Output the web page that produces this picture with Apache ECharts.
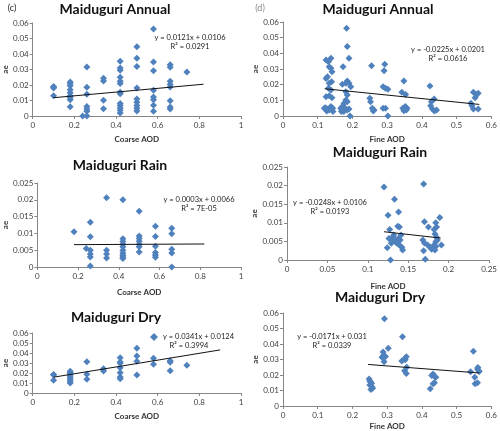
<!DOCTYPE html>
<html><head><meta charset="utf-8">
<script src="https://cdn.jsdelivr.net/npm/echarts@6/dist/echarts.min.js"></script>
<style>html,body{margin:0;padding:0;background:#fff}#c{width:500px;height:431px}</style>
</head><body><div id="c"></div>
<script>
// ---- data ----
const annualCoarse = [
 [0.1,0.019],[0.1,0.018],[0.1,0.0185],[0.1,0.013],
 [0.18,0.022],[0.18,0.021],[0.18,0.0195],[0.18,0.017],[0.18,0.015],[0.18,0.013],[0.18,0.012],[0.18,0.0105],[0.18,0.006],
 [0.24,0.0],
 [0.26,0.0316],[0.26,0.0185],[0.26,0.014],[0.26,0.0062],[0.26,0.0045],[0.26,0.003],[0.26,0.0],
 [0.34,0.0243],[0.34,0.0226],[0.34,0.0101],[0.34,0.0047],
 [0.42,0.0353],[0.42,0.031],[0.42,0.0295],[0.42,0.025],[0.42,0.0224],[0.42,0.021],[0.42,0.0153],[0.42,0.0144],[0.42,0.008],[0.42,0.0067],[0.42,0.0052],[0.42,0.0037],[0.42,0.002],
 [0.5,0.0447],[0.5,0.0372],[0.5,0.032],[0.5,0.018],[0.5,0.011],[0.5,0.0088],[0.5,0.0067],[0.5,0.005],[0.5,0.0032],
 [0.58,0.0561],[0.58,0.0348],[0.58,0.0292],[0.58,0.0166],[0.58,0.0123],[0.58,0.0105],[0.58,0.007],[0.58,0.003],
 [0.66,0.033],[0.66,0.0314],[0.66,0.0224],[0.66,0.0204],[0.66,0.0187],[0.66,0.0099],[0.66,0.0058],[0.66,0.0045],
 [0.74,0.0284]
];
const annualCoarseTrend = [[0.1,0.0118],[0.82,0.0205]];

const annualFine = [
 [0.124,0.0357],[0.131,0.0347],[0.138,0.0368],[0.133,0.0315],[0.138,0.0304],[0.141,0.0283],[0.128,0.0251],[0.124,0.024],
 [0.133,0.0209],[0.14,0.0219],[0.131,0.0177],[0.138,0.0166],[0.124,0.0123],[0.133,0.013],[0.141,0.0117],[0.122,0.0053],
 [0.128,0.0045],[0.133,0.0038],[0.138,0.006],[0.143,0.0049],[0.144,0.0028],[0.126,0.0032],[0.119,0.0049],
 [0.183,0.056],[0.185,0.0443],[0.19,0.0368],[0.173,0.0315],[0.185,0.0223],[0.19,0.0209],[0.181,0.0209],[0.171,0.0202],
 [0.195,0.0187],[0.181,0.0155],[0.185,0.0134],[0.181,0.0102],[0.185,0.0091],[0.176,0.0081],[0.171,0.006],[0.179,0.0049],
 [0.185,0.0038],[0.168,0.0028],[0.175,0.0028],[0.19,0.0045],[0.193,0.0],[0.166,0.0049],
 [0.255,0.032],[0.25,0.0113],[0.252,0.0091],[0.257,0.0049],[0.26,0.0032],[0.262,0.0038],
 [0.293,0.033],[0.291,0.0289],[0.288,0.0187],[0.295,0.0177],[0.302,0.017],[0.288,0.0049],[0.295,0.0049],[0.302,0.0],
 [0.348,0.0223],[0.342,0.0151],[0.353,0.0138],[0.345,0.0049],[0.352,0.006],[0.355,0.0038],[0.348,0.0034],[0.357,0.0049],
 [0.423,0.0191],[0.427,0.0091],[0.435,0.0109],[0.425,0.0066],[0.43,0.0045],[0.436,0.0032],[0.442,0.0038],
 [0.558,0.0138],[0.553,0.0117],[0.548,0.0151],[0.562,0.0145],[0.541,0.0081],[0.544,0.0066],[0.548,0.0045],[0.562,0.0045]
];
const annualFineTrend = [[0.12,0.0174],[0.565,0.0074]];

const rainCoarse = [
 [0.18,0.0105],[0.24,0.0055],
 [0.26,0.0133],[0.26,0.009],[0.26,0.005],[0.26,0.0039],[0.26,0.003],[0.26,0.0003],
 [0.34,0.0206],[0.34,0.005],[0.34,0.0039],[0.34,0.0027],
 [0.42,0.02],[0.42,0.0084],[0.42,0.0076],[0.42,0.0068],[0.42,0.006],[0.42,0.005],[0.42,0.0042],[0.42,0.0035],[0.42,0.003],[0.42,0.0025],
 [0.5,0.0166],[0.5,0.0092],[0.5,0.0085],[0.5,0.0077],[0.5,0.0068],[0.5,0.006],[0.5,0.0045],
 [0.58,0.0121],[0.58,0.0091],[0.58,0.0062],[0.58,0.0043],[0.58,0.0036],[0.58,0.0029],
 [0.66,0.0115],[0.66,0.0099],[0.66,0.0053],[0.66,0.0042],[0.66,0.0]
];
const rainCoarseTrend = [[0.18,0.00665],[0.82,0.00685]];

const rainFine = [
 [0.12,0.0196],[0.125,0.012],[0.127,0.0082],[0.124,0.0033],[0.128,0.0],[0.126,0.0058],[0.129,0.0054],[0.131,0.0062],
 [0.133,0.0163],[0.132,0.0067],[0.134,0.0049],[0.136,0.0045],[0.138,0.0129],[0.137,0.0091],[0.139,0.0089],[0.135,0.0054],
 [0.138,0.0058],[0.14,0.0054],[0.141,0.0067],[0.142,0.0034],[0.143,0.0027],[0.139,0.004],[0.129,0.0045],
 [0.169,0.0204],[0.17,0.0103],[0.168,0.0054],[0.17,0.0046],[0.169,0.0025],[0.171,0.0002],[0.174,0.004],[0.175,0.0089],
 [0.177,0.0034],[0.179,0.0029],[0.182,0.0082],[0.184,0.01],[0.185,0.0089],[0.183,0.007],[0.185,0.0061],[0.184,0.0049],
 [0.182,0.004],[0.184,0.0036],[0.183,0.0027],[0.189,0.0114],[0.191,0.004],[0.186,0.0054]
];
const rainFineTrend = [[0.12,0.0076],[0.19,0.0059]];

const dryCoarse = [
 [0.1,0.0186],[0.1,0.018],[0.1,0.0127],
 [0.18,0.0217],[0.18,0.0203],[0.18,0.019],[0.18,0.017],[0.18,0.015],[0.18,0.0137],[0.18,0.0117],[0.18,0.01],
 [0.26,0.0313],[0.26,0.0187],[0.26,0.0137],
 [0.34,0.0243],[0.34,0.022],
 [0.42,0.0353],[0.42,0.031],[0.42,0.0297],[0.42,0.0253],[0.42,0.0203],[0.42,0.016],[0.42,0.0143],
 [0.5,0.0447],[0.5,0.037],[0.5,0.0317],[0.5,0.018],
 [0.58,0.0347],[0.58,0.0287],
 [0.66,0.0323],[0.66,0.0307],[0.66,0.0223],
 [0.74,0.0277]
];
const dryCoarseTrend = [[0.1,0.0158],[0.9,0.0431]];

const dryFine = [
 [0.248,0.0175],[0.25,0.0162],[0.252,0.0155],[0.255,0.0146],[0.25,0.0135],[0.256,0.0125],[0.258,0.0115],[0.253,0.0106],
 [0.292,0.0563],[0.288,0.0348],[0.29,0.0328],[0.285,0.0315],[0.295,0.032],[0.291,0.0285],[0.303,0.0373],
 [0.344,0.0447],[0.342,0.029],[0.35,0.0305],[0.355,0.0318],[0.352,0.0298],[0.356,0.025],[0.35,0.0228],[0.355,0.021],
 [0.428,0.0196],[0.432,0.0206],[0.436,0.0191],[0.44,0.0185],[0.432,0.0143],[0.436,0.015],[0.424,0.0112],
 [0.548,0.0353],[0.54,0.0221],[0.552,0.0185],[0.553,0.0143],[0.56,0.015],[0.56,0.0238],[0.563,0.0228],[0.561,0.0248],[0.565,0.0222]
];
const dryFineTrend = [[0.245,0.0268],[0.565,0.0213]];

const panelTitles = ['Maiduguri Annual','Maiduguri Annual','Maiduguri Rain','Maiduguri Rain','Maiduguri Dry','Maiduguri Dry'];
const xNames = ['Coarse AOD','Fine AOD','Coarse AOD','Fine AOD','Coarse AOD','Fine AOD'];
const equations = ['y = 0.0121x + 0.0106','y = -0.0225x + 0.0201','y = 0.0003x + 0.0066','y = -0.0248x + 0.0106','y = 0.0341x + 0.0124','y = -0.0171x + 0.031'];
const rSquared = ['R² = 0.0291','R² = 0.0616','R² = 7E-05','R² = 0.0193','R² = 0.3994','R² = 0.0339'];
const xRanges = [[0,1,0.2],[0,0.6,0.1],[0,1,0.2],[0,0.25,0.05],[0,1,0.2],[0,0.6,0.1]];
const yRanges = [[0,0.06,0.01],[0,0.06,0.01],[0,0.025,0.005],[0,0.025,0.005],[0,0.06,0.01],[0,0.06,0.01]];

// ---- layout ----
const FONT = 'Lato, "Open Sans", sans-serif';
const BLUE = '#4F81BD';
const grids = [
 {left:29, top:23, width:212, height:93},
 {left:283, top:22, width:212, height:94},
 {left:32, top:183, width:209, height:84},
 {left:287, top:167, width:206, height:93},
 {left:29, top:333, width:212, height:60},
 {left:283, top:313, width:212, height:94}
];
const xNameGaps = [19,19,21,22,19,16];
const yNameGaps = [21,23,23,26,21,23];
const scatterSets = [annualCoarse, annualFine, rainCoarse, rainFine, dryCoarse, dryFine];
const trendSets = [annualCoarseTrend, annualFineTrend, rainCoarseTrend, rainFineTrend, dryCoarseTrend, dryFineTrend];
const titlePos = [[115,9],[378,9],[120,165],[380,152],[116,317],[380,297]];
const eqPos = [[190,38,47],[448,50,59],[199,200,209],[330,203,212],[189,337,346],[332,337,346]];

const axisCommon = {
  axisLine:{show:true, onZero:false, lineStyle:{color:'#868686', width:1}},
  axisTick:{show:true, inside:false, length:3, lineStyle:{color:'#868686'}},
  splitLine:{show:false},
  axisLabel:{fontSize:8, color:'#404040', fontFamily:FONT}
};

const xAxis = [], yAxis = [], series = [], graphic = [];
for (let i=0;i<6;i++){
  xAxis.push(Object.assign({}, axisCommon, {
    type:'value', gridIndex:i, min:xRanges[i][0], max:xRanges[i][1], interval:xRanges[i][2],
    name:xNames[i], nameLocation:'middle', nameGap:xNameGaps[i],
    nameTextStyle:{fontSize:8, fontWeight:'bold', color:'#333', fontFamily:FONT},
    axisLabel:{fontSize:8, color:'#404040', fontFamily:FONT, margin:5}
  }));
  yAxis.push(Object.assign({}, axisCommon, {
    type:'value', gridIndex:i, min:yRanges[i][0], max:yRanges[i][1], interval:yRanges[i][2],
    name:'ae', nameLocation:'middle', nameGap:yNameGaps[i], nameRotate:90,
    nameTextStyle:{fontSize:8, fontWeight:'bold', color:'#333', fontFamily:FONT},
    axisLabel:{fontSize:8, color:'#404040', fontFamily:FONT, margin:4}
  }));
  series.push({
    name:'pts'+i, type:'scatter', xAxisIndex:i, yAxisIndex:i, data:scatterSets[i],
    symbol:'diamond', symbolSize:7, itemStyle:{color:BLUE, opacity:1}, z:3
  });
  series.push({
    type:'line', xAxisIndex:i, yAxisIndex:i, data:trendSets[i], symbol:'none',
    lineStyle:{color:'#111', width:1}, z:4, silent:true
  });
  graphic.push({type:'text', x:titlePos[i][0], y:titlePos[i][1],
    style:{text:panelTitles[i], font:'bold 14px '+FONT, fill:'#111', textAlign:'center', textVerticalAlign:'middle'}});
  if (i!==4){
    graphic.push({type:'text', x:eqPos[i][0], y:eqPos[i][1],
      style:{text:equations[i], font:'7.5px '+FONT, fill:'#222', textAlign:'center', textVerticalAlign:'middle'}});
  }
  graphic.push({type:'text', x:eqPos[i][0], y:eqPos[i][2],
    style:{text:rSquared[i], font:'7.5px '+FONT, fill:'#222', textAlign:'center', textVerticalAlign:'middle'}});
}
graphic.push({type:'text', x:12, y:8, style:{text:'(c)', font:'9px '+FONT, fill:'#222', textAlign:'center', textVerticalAlign:'middle'}});
graphic.push({type:'text', x:260, y:8, style:{text:'(d)', font:'9px '+FONT, fill:'#888', textAlign:'center', textVerticalAlign:'middle'}});

const chart = echarts.init(document.getElementById('c'), null, {renderer:'canvas'});
chart.setOption({
  animation:false,
  backgroundColor:'#fff',
  grid:grids.map(g=>Object.assign({containLabel:false}, g)),
  xAxis, yAxis, series, graphic,
  legend:{
    show:true, data:['pts4'], left:150, top:333, itemWidth:8, itemHeight:8, itemGap:2,
    icon:'diamond', formatter:()=>equations[4],
    textStyle:{fontSize:7.5, color:'#222', fontFamily:FONT, padding:[0,0,0,0]}, padding:0
  }
});
</script></body></html>
